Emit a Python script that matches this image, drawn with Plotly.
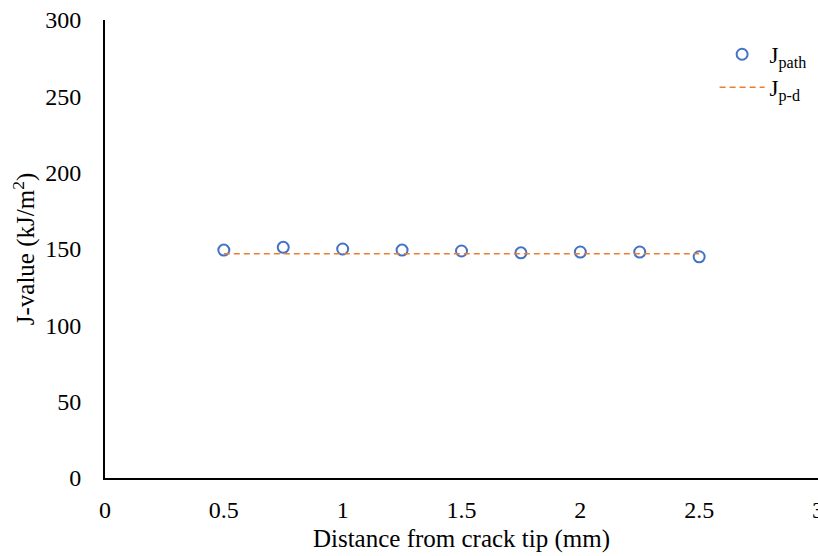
import plotly.graph_objects as go

distance = [0.5, 0.75, 1.0, 1.25, 1.5, 1.75, 2.0, 2.25, 2.5]
j_path = [149.3, 151.1, 150.0, 149.3, 148.7, 147.5, 148.0, 148.0, 144.9]
jpd_x = [0.5, 2.5]
jpd_y = [146.9, 146.9]
x_ticks = [0, 0.5, 1, 1.5, 2, 2.5, 3]
x_ticktext = ["0", "0.5", "1", "1.5", "2", "2.5", "3"]
y_ticks = [0, 50, 100, 150, 200, 250, 300]

font_family = '"Liberation Serif", serif'

fig = go.Figure()
fig.add_trace(go.Scatter(
    x=distance, y=j_path, mode="markers", name="J<sub>path</sub>",
    marker=dict(symbol="circle-open", size=11, color="#4472C4", line=dict(width=2, color="#4472C4")),
))
fig.add_trace(go.Scatter(
    x=jpd_x, y=jpd_y, mode="lines", name="J<sub>p-d</sub>",
    line=dict(color="#ED7D31", width=1.5, dash="6px,4px"),
))

fig.update_layout(
    width=818, height=556,
    margin=dict(l=105, r=0, t=20, b=78, autoexpand=False),
    plot_bgcolor="white", paper_bgcolor="white",
    font=dict(family=font_family, size=23, color="black"),
    legend=dict(x=0.855, y=0.972, xanchor="left", yanchor="top", itemwidth=45,
                bgcolor="rgba(0,0,0,0)", font=dict(family=font_family, size=23)),
    xaxis=dict(range=[0, 3], tickvals=x_ticks, ticktext=x_ticktext, automargin=False,
               showgrid=False, zeroline=False, showline=True, linecolor="black", linewidth=2,
               ticks="", ticklabelstandoff=9, ticklabeloverflow="allow",
               tickfont=dict(family=font_family, size=24),
               title=dict(text="Distance from crack tip (mm)", font=dict(family=font_family, size=25), standoff=8)),
    yaxis=dict(range=[0, 300], tickvals=y_ticks, automargin=False,
               showgrid=False, zeroline=False, showline=True, linecolor="black", linewidth=2,
               ticks="", ticklabelstandoff=17, tickfont=dict(family=font_family, size=24),
               title=dict(text="J-value (kJ/m<sup>2</sup>)", font=dict(family=font_family, size=25), standoff=3)),
)

fig.write_html("out.html")
